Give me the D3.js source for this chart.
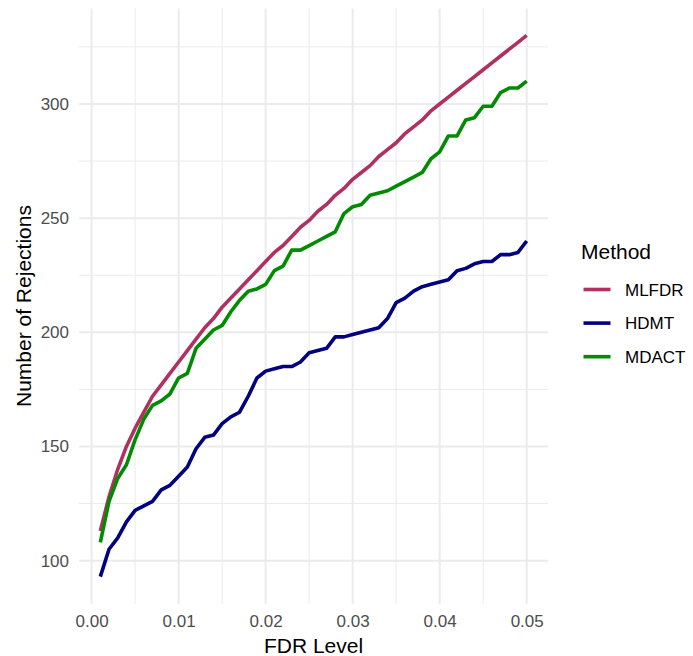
<!DOCTYPE html>
<html>
<head>
<meta charset="utf-8">
<script src="https://cdn.jsdelivr.net/npm/d3@7"></script>
<style>
  body { margin: 0; background: #fff; }
  text { font-family: "Liberation Sans", Arial, Helvetica, sans-serif; }
</style>
</head>
<body>
<script>
// FDR levels 0.001 .. 0.050
var fdrLevels = [0.001,0.002,0.003,0.004,0.005,0.006,0.007,0.008,0.009,0.010,
                 0.011,0.012,0.013,0.014,0.015,0.016,0.017,0.018,0.019,0.020,
                 0.021,0.022,0.023,0.024,0.025,0.026,0.027,0.028,0.029,0.030,
                 0.031,0.032,0.033,0.034,0.035,0.036,0.037,0.038,0.039,0.040,
                 0.041,0.042,0.043,0.044,0.045,0.046,0.047,0.048,0.049,0.050];

var mlfdr = [113,128,140,150,158,165,172,177,182,187,
             192,197,202,206,211,215,219,223,227,231,
             235,238,242,246,249,253,256,260,263,267,
             270,273,277,280,283,287,290,293,297,300,
             303,306,309,312,315,318,321,324,327,330];

var hdmt = [93,105,110,117,122,124,126,131,133,137,
            141,149,154,155,160,163,165,172,180,183,
            184,185,185,187,191,192,193,198,198,199,
            200,201,202,206,213,215,218,220,221,222,
            223,227,228,230,231,231,234,234,235,240];

var mdact = [108,126,136,142,153,162,168,170,173,180,
             182,193,197,201,203,209,214,218,219,221,
             227,229,236,236,238,240,242,244,252,255,
             256,260,261,262,264,266,268,270,276,279,
             286,286,293,294,299,299,305,307,307,310];

var methods = ["MLFDR", "HDMT", "MDACT"];
var colors = ["#B03060", "#000080", "#008B00"];
var xTicks = [0, 0.01, 0.02, 0.03, 0.04, 0.05];
var yTicks = [100, 150, 200, 250, 300];

var W = 693, H = 656;
var panel = { left: 79, right: 548, top: 8.4, bottom: 603.7 };

var svg = d3.select("body").append("svg")
    .attr("width", W)
    .attr("height", H);

var series = [mlfdr, hdmt, mdact];

// ggplot-like 5% expansion
var xExt = d3.extent(fdrLevels);
var xPad = (xExt[1] - xExt[0]) * 0.05;
var allY = mlfdr.concat(hdmt, mdact);
var yExt = d3.extent(allY);
var yPad = (yExt[1] - yExt[0]) * 0.05;

var x = d3.scaleLinear()
    .domain([xExt[0] - xPad, xExt[1] + xPad])
    .range([panel.left, panel.right]);
var y = d3.scaleLinear()
    .domain([yExt[0] - yPad, yExt[1] + yPad])
    .range([panel.bottom, panel.top]);

// minor grid
var xMinor = d3.range(0.005, 0.05, 0.01);
var yMinor = [75, 125, 175, 225, 275, 325].filter(function (v) {
  return v > y.domain()[0] && v < y.domain()[1];
});
var grid = svg.append("g");
grid.selectAll(".xminor").data(xMinor).enter().append("line")
    .attr("x1", function (d) { return x(d); })
    .attr("x2", function (d) { return x(d); })
    .attr("y1", panel.top).attr("y2", panel.bottom)
    .attr("stroke", "#EBEBEB").attr("stroke-width", 1);
grid.selectAll(".yminor").data(yMinor).enter().append("line")
    .attr("y1", function (d) { return y(d); })
    .attr("y2", function (d) { return y(d); })
    .attr("x1", panel.left).attr("x2", panel.right)
    .attr("stroke", "#EBEBEB").attr("stroke-width", 1);
grid.selectAll(".xmajor").data(xTicks).enter().append("line")
    .attr("x1", function (d) { return x(d); })
    .attr("x2", function (d) { return x(d); })
    .attr("y1", panel.top).attr("y2", panel.bottom)
    .attr("stroke", "#EBEBEB").attr("stroke-width", 2);
grid.selectAll(".ymajor").data(yTicks).enter().append("line")
    .attr("y1", function (d) { return y(d); })
    .attr("y2", function (d) { return y(d); })
    .attr("x1", panel.left).attr("x2", panel.right)
    .attr("stroke", "#EBEBEB").attr("stroke-width", 2);

// axes (text only, like theme_minimal)
var xAxis = svg.append("g")
    .attr("transform", "translate(0," + panel.bottom + ")")
    .call(d3.axisBottom(x).tickValues(xTicks).tickFormat(d3.format(".2f")).tickSize(0).tickPadding(11));
var yAxis = svg.append("g")
    .attr("transform", "translate(" + panel.left + ",0)")
    .call(d3.axisLeft(y).tickValues(yTicks).tickSize(0).tickPadding(10));
[xAxis, yAxis].forEach(function (a) {
  a.select(".domain").remove();
  a.selectAll("text")
    .attr("fill", "#4D4D4D")
    .style("font-size", "17px")
    .style("font-family", "'Liberation Sans', Arial, sans-serif");
});

// lines
var line = d3.line()
    .x(function (d, i) { return x(fdrLevels[i]); })
    .y(function (d) { return y(d); });

svg.append("g").selectAll("path").data(series).enter().append("path")
    .attr("d", function (d) { return line(d); })
    .attr("fill", "none")
    .attr("stroke", function (d, i) { return colors[i]; })
    .attr("stroke-width", 3.6)
    .attr("stroke-linejoin", "round")
    .attr("stroke-linecap", "butt");

// axis titles
svg.append("text")
    .attr("x", (panel.left + panel.right) / 2)
    .attr("y", 653)
    .attr("text-anchor", "middle")
    .style("font-size", "21px")
    .attr("fill", "#000")
    .text("FDR Level");

svg.append("text")
    .attr("transform", "translate(30.5," + ((panel.top + panel.bottom) / 2) + ") rotate(-90)")
    .attr("text-anchor", "middle")
    .style("font-size", "21px")
    .attr("fill", "#000")
    .text("Number of Rejections");

// legend
var legend = svg.append("g").attr("transform", "translate(581,0)");
legend.append("text")
    .attr("x", 0)
    .attr("y", 259)
    .style("font-size", "21px")
    .attr("fill", "#000")
    .text("Method");

var keys = legend.selectAll(".key").data(methods).enter().append("g")
    .attr("transform", function (d, i) { return "translate(0," + (289.5 + i * 33.6) + ")"; });
keys.append("line")
    .attr("x1", 2.5).attr("x2", 29.5)
    .attr("y1", 0).attr("y2", 0)
    .attr("stroke", function (d, i) { return colors[i]; })
    .attr("stroke-width", 3.6);
keys.append("text")
    .attr("x", 44)
    .attr("y", 6)
    .style("font-size", "17px")
    .attr("fill", "#000")
    .text(function (d) { return d; });
</script>
</body>
</html>
